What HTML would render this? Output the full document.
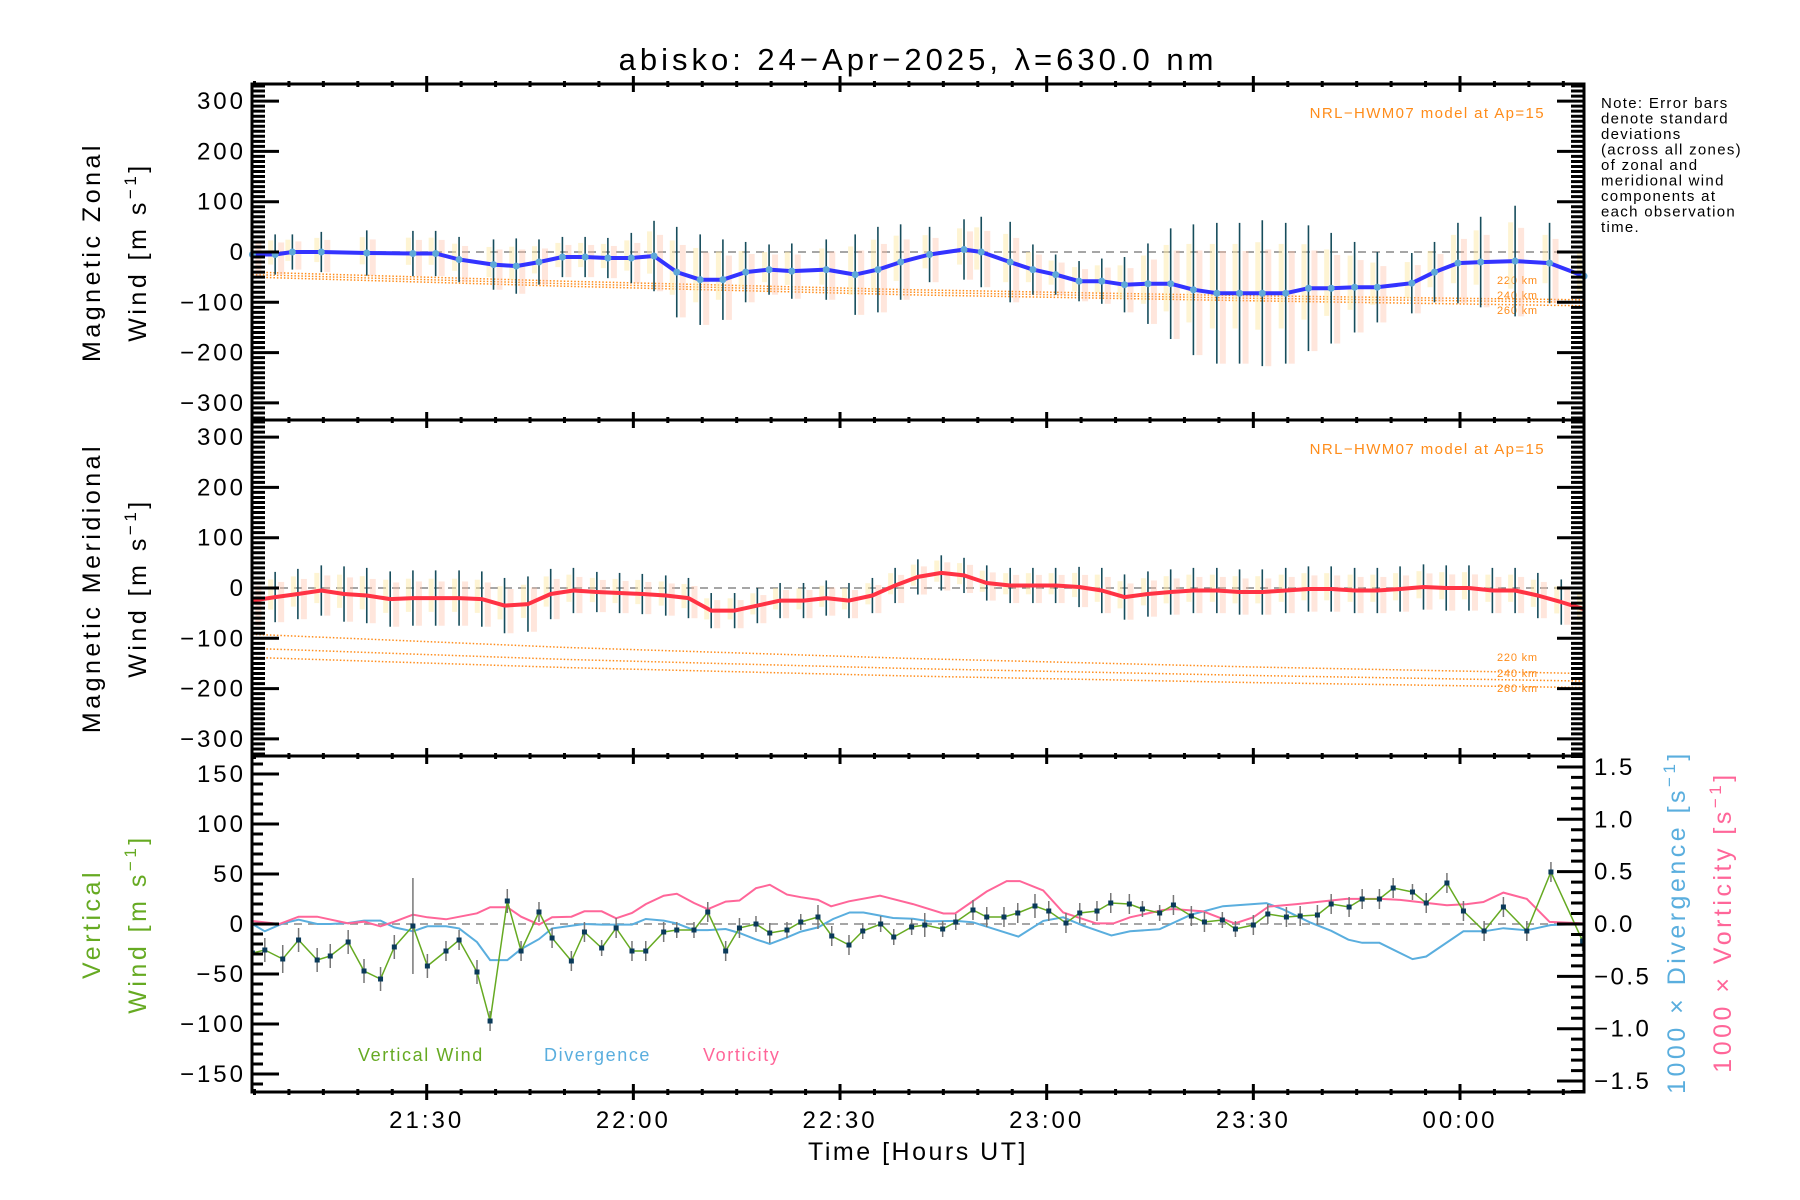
<!DOCTYPE html>
<html><head><meta charset="utf-8"><title>abisko winds</title>
<style>
html,body{margin:0;padding:0;background:#fff;}
svg{display:block;font-family:"Liberation Sans",sans-serif;}
</style></head>
<body>
<svg id="chart" xmlns="http://www.w3.org/2000/svg" width="1800" height="1200" viewBox="0 0 1800 1200">
<rect width="1800" height="1200" fill="#fff"/>
<text x="918" y="70" font-size="31" letter-spacing="4" text-anchor="middle">abisko: 24−Apr−2025, λ=630.0 nm</text>
<g id="layer"></g>
<g font-size="15" letter-spacing="1.3" fill="#000">
<text x="1601" y="108">Note: Error bars</text>
<text x="1601" y="123.5">denote standard</text>
<text x="1601" y="139">deviations</text>
<text x="1601" y="154.5">(across all zones)</text>
<text x="1601" y="170">of zonal and</text>
<text x="1601" y="185.5">meridional wind</text>
<text x="1601" y="201">components at</text>
<text x="1601" y="216.5">each observation</text>
<text x="1601" y="232">time.</text>
</g>
<g font-size="25" letter-spacing="3.5" text-anchor="middle">
<text transform="translate(100,252) rotate(-90)">Magnetic Zonal</text>
<text transform="translate(146,252) rotate(-90)">Wind [m s<tspan dy="-10" font-size="17">−1</tspan><tspan dy="10">]</tspan></text>
<text transform="translate(100,588) rotate(-90)">Magnetic Meridional</text>
<text transform="translate(146,588) rotate(-90)">Wind [m s<tspan dy="-10" font-size="17">−1</tspan><tspan dy="10">]</tspan></text>
<text transform="translate(100,924) rotate(-90)" fill="#66aa22">Vertical</text>
<text transform="translate(146,924) rotate(-90)" fill="#66aa22">Wind [m s<tspan dy="-10" font-size="17">−1</tspan><tspan dy="10">]</tspan></text>
<text transform="translate(1685,922) rotate(-90)" fill="#5aaede">1000 × Divergence [s<tspan dy="-10" font-size="17">−1</tspan><tspan dy="10">]</tspan></text>
<text transform="translate(1731,922) rotate(-90)" fill="#ff6699">1000 × Vorticity [s<tspan dy="-10" font-size="17">−1</tspan><tspan dy="10">]</tspan></text>
</g>
<text x="918" y="1160" font-size="25" letter-spacing="2.5" text-anchor="middle">Time [Hours UT]</text>
<text x="1545" y="118" font-size="15" letter-spacing="1.4" text-anchor="end" fill="#ff8c1a">NRL−HWM07 model at Ap=15</text>
<text x="1545" y="454" font-size="15" letter-spacing="1.4" text-anchor="end" fill="#ff8c1a">NRL−HWM07 model at Ap=15</text>
<g font-size="18" letter-spacing="1.6">
<text x="358" y="1061" fill="#66aa22">Vertical Wind</text>
<text x="544" y="1061" fill="#5aaede">Divergence</text>
<text x="703" y="1061" fill="#ff6699">Vorticity</text>
</g>
</svg>
<script>
// ---------- data ----------
const zonalTimes=[4.7,8,10.5,14.7,21.3,28,31.3,34.7,39.7,43,46.3,49.7,53,56.3,59.7,63,66.3,69.7,73,76.3,79.7,83,88,92.2,95.5,98.8,103,108,110.5,114.7,118,121.3,124.7,128,131.3,134.7,138,141.3,144.7,148,151.3,154.7,158,161.3,164.7,168,173,176.3,179.7,183,188,193,198];
const zonalWind=[-5,-5,0,0,-2,-3,-3,-15,-25,-28,-20,-10,-10,-12,-12,-8,-40,-55,-55,-40,-35,-38,-35,-45,-35,-20,-5,5,0,-20,-35,-45,-58,-58,-65,-63,-63,-75,-82,-82,-82,-82,-72,-72,-70,-70,-62,-40,-22,-20,-18,-22,-48];
const zonalStd=[45,40,35,40,45,45,45,45,50,55,45,40,40,40,50,70,90,90,80,60,50,55,60,80,85,75,55,60,70,80,50,40,40,45,55,80,110,130,140,140,145,140,125,110,90,70,60,60,80,90,110,80,70];
const merTimes=[4.7,8,11.3,14.7,18,21.3,24.7,28,31.3,34.7,38,41.3,44.7,48,51.3,54.7,58,61.3,64.7,68,71.3,74.7,78,81.3,84.7,88,91.3,94.7,98,101.3,104.7,108,111.3,114.7,118,121.3,124.7,128,131.3,134.7,138,141.3,144.7,148,151.3,154.7,158,161.3,164.7,168,171.3,174.7,178,181.3,184.7,188,191.3,194.7,198];
const merWind=[-25,-18,-12,-5,-12,-15,-22,-20,-20,-20,-22,-35,-32,-12,-5,-8,-10,-12,-15,-20,-45,-45,-35,-25,-25,-20,-25,-15,5,22,30,25,10,5,5,5,2,-5,-18,-12,-8,-5,-5,-8,-8,-5,-2,-2,-5,-5,-2,2,0,0,-5,-5,-15,-28,-42];
const merStd=[50,50,50,50,55,55,55,55,55,55,55,55,55,50,45,40,40,40,40,40,35,35,35,35,35,35,35,35,35,35,35,35,35,35,35,35,40,45,45,45,45,45,45,45,45,45,45,45,45,45,45,45,45,45,45,45,45,45,45];
const hwmTimes=[4.7,50,100,150,198];
const hwmZonal220=[-40,-58,-75,-87,-95];
const hwmZonal240=[-45,-63,-80,-92,-100];
const hwmZonal260=[-50,-68,-85,-97,-107];
const hwmMer220=[-92,-118,-140,-157,-170];
const hwmMer240=[-120,-142,-160,-174,-185];
const hwmMer260=[-138,-158,-175,-188,-198];
const vertTimes=[4.7,6.5,9.1,11.4,14.1,16,18.6,20.9,23.3,25.3,28,30.1,32.8,34.7,37.3,39.2,41.7,43.7,46.3,48.2,51,52.9,55.4,57.5,59.8,61.8,64.4,66.3,68.8,70.8,73.4,75.4,77.8,79.8,82.3,84.3,86.8,88.8,91.3,93.3,95.9,97.8,100.4,102.3,104.9,106.8,109.3,111.3,113.8,115.8,118.3,120.3,122.8,124.8,127.3,129.3,132,133.9,136.4,138.4,141,142.9,145.5,147.4,150,152.1,154.8,156.8,159.3,161.3,163.9,165.8,168.3,170.3,173.1,175.1,178.1,180.5,183.5,186.3,189.7,193.2,197.8];
const vertWind=[-29,-26,-35,-16,-36,-32,-18,-47,-55,-23,-2,-42,-27,-16,-48,-97,23,-27,12,-14,-37,-8,-24,-4,-27,-27,-8,-6,-6,12,-27,-4,0,-9,-6,2,7,-12,-21,-7,0,-13,-3,-1,-5,2,14,7,7,11,18,13,1,11,13,21,20,15,11,19,8,2,4,-5,-1,10,7,8,9,20,17,25,25,36,32,21,41,13,-7,17,-7,52,-17];
const vertErr=[12,12,14,12,12,12,12,12,12,12,48,12,10,10,12,10,12,10,10,10,10,10,8,10,10,10,10,8,8,10,10,10,8,10,8,8,12,10,10,8,8,8,8,12,8,8,10,10,10,10,12,10,10,10,10,10,10,8,8,10,10,10,8,8,10,10,10,10,10,10,10,10,10,10,8,10,10,10,10,10,10,10,10];
const divTimes=[4.7,6.5,9.1,11.4,14.1,16,18.6,20.9,23.3,25.3,28,30.1,32.8,34.7,37.3,39.2,41.7,43.7,46.3,48.2,51,52.9,55.4,57.5,59.8,61.8,64.4,66.3,68.8,70.8,73.4,75.4,77.8,79.8,82.3,84.3,86.8,89,91.4,93.4,97.7,100.6,103,106.9,109.3,115.9,119.5,122.4,125.3,129.4,132.1,136.4,141,145.6,151.9,154.3,158.2,161.3,163.8,165.8,168.3,173.1,175.1,180.5,183.5,186.3,189.7,193.2,197.9];
const divergence=[0,-0.07,0.006,0.041,0,0,0.01,0.032,0.032,-0.032,-0.07,-0.022,-0.022,-0.042,-0.173,-0.345,-0.345,-0.24,-0.144,-0.042,-0.016,0,-0.006,-0.006,-0.006,0.048,0.032,0.006,-0.058,-0.058,-0.048,-0.086,-0.147,-0.19,-0.128,-0.073,-0.032,0.048,0.11,0.11,0.057,0.05,0.025,0.03,0.016,-0.12,0.03,0.064,-0.016,-0.11,-0.07,-0.05,0.09,0.17,0.2,0.14,0.016,-0.065,-0.15,-0.18,-0.18,-0.335,-0.31,-0.07,-0.07,-0.04,-0.06,-0.01,0];
const vortTimes=[4.7,8.6,11.4,14.1,18.6,20.9,23.3,25.3,28,30.1,32.8,37.3,39.2,41.7,43.7,46.3,48.2,51,52.9,55.4,57.5,59.8,61.8,64.4,66.3,68.8,70.8,73.4,75.4,77.8,79.8,82.3,84.3,86.8,88.7,91.3,95.8,100.6,105,106.7,111.3,114.2,116.1,119.5,122.4,127.2,129.7,132.1,136.9,138.4,142.7,147.3,150,152.2,156.3,160.6,163.5,168.4,171.3,178.1,181,183.4,186.3,189.7,193,197.9];
const vorticity=[0.029,0,0.07,0.07,0.006,0.022,-0.022,0.022,0.089,0.064,0.045,0.102,0.16,0.16,0.07,-0.006,0.064,0.07,0.121,0.121,0.054,0.105,0.19,0.27,0.288,0.201,0.141,0.214,0.224,0.342,0.374,0.281,0.256,0.23,0.169,0.217,0.27,0.19,0.1,0.1,0.31,0.41,0.41,0.32,0.11,0.006,0.006,0.064,0.134,0.143,0.12,0.006,0.064,0.166,0.19,0.22,0.24,0.24,0.23,0.18,0.19,0.21,0.3,0.24,0.02,0.006];
const zonalTicks=[300,200,100,0,-100,-200,-300];
const vertTicks=[150,100,50,0,-50,-100,-150];
const rightTicks=[1.5,1.0,0.5,0.0,-0.5,-1.0,-1.5];
const timeTickMinutes=[30,60,90,120,150,180];
const timeTickLabels=["21:30","22:00","22:30","23:00","23:30","00:00"];

// ---------- axes ----------
const L=252,R=1584,P=[[84,420],[420,756],[756,1092]];
const M0=4.64,M1=198.0;
function xS(m){return L+(m-M0)*(R-L)/(M1-M0);}
function yZ(v){return 252-v*0.503;}
function yM(v){return 588-v*0.503;}
function yV(v){return 924-v*1.0;}
function yR(r){return 924-r*104.7;}
const NS="http://www.w3.org/2000/svg";
const layer=document.getElementById('layer');
function mk(tag,attrs,parent){const e=document.createElementNS(NS,tag);for(const k in attrs)e.setAttribute(k,attrs[k]);(parent||layer).appendChild(e);return e;}
function poly(ts,vs,yf){return ts.map((t,i)=>xS(t).toFixed(1)+','+yf(vs[i]).toFixed(1)).join(' ');}

const defs=mk('defs',{});
P.forEach((p,i)=>{const c=mk('clipPath',{id:'clip'+i},defs);mk('rect',{x:L,y:p[0],width:R-L,height:p[1]-p[0]},c);});

[[yZ,0],[yM,1],[yV,2]].forEach(([f,i])=>{
  const z=mk('line',{x1:L,x2:R,y1:f(0),y2:f(0),stroke:'#888','stroke-width':1.5,'stroke-dasharray':'8,6'});
  
  
});

function hwm(arr,yf,ci,name){
  const l=mk('polyline',{points:poly(hwmTimes,arr,yf),fill:'none',stroke:'#ff8c1a','stroke-width':1.5,'stroke-dasharray':'1.5,2','clip-path':'url(#clip'+ci+')'});
  
  
}
hwm(hwmZonal220,yZ,0,'hwm-zonal-220km');hwm(hwmZonal240,yZ,0,'hwm-zonal-240km');hwm(hwmZonal260,yZ,0,'hwm-zonal-260km');
hwm(hwmMer220,yM,1,'hwm-meridional-220km');hwm(hwmMer240,yM,1,'hwm-meridional-240km');hwm(hwmMer260,yM,1,'hwm-meridional-260km');
[['220 km',284],['240 km',299],['260 km',314],['220 km',661],['240 km',677],['260 km',692]].forEach(([t,y])=>{
  const e=mk('text',{x:1497,y:y,'font-size':11,fill:'#ff8c1a','letter-spacing':0.8});e.textContent=t;
  
  
});

function errs(ts,vs,sd,yf,ci,prefix){
  ts.forEach((t,i)=>{
    const x=xS(t);
    const b=mk('rect',{x:x+3,y:yf(vs[i]+sd[i]*0.6),width:6,height:yf(vs[i]-sd[i])-yf(vs[i]+sd[i]*0.6),fill:'#ffc0a8',opacity:0.4,'clip-path':'url(#clip'+ci+')'});
    
    
    const y=mk('rect',{x:x-7,y:yf(vs[i]+sd[i]*0.7),width:5,height:yf(vs[i]-sd[i]*0.5)-yf(vs[i]+sd[i]*0.7),fill:'#fde9a8',opacity:0.5,'clip-path':'url(#clip'+ci+')'});
    
    
    const l=mk('line',{x1:x,x2:x,y1:yf(vs[i]+sd[i]),y2:yf(vs[i]-sd[i]),stroke:'#174d5c','stroke-width':1.6,'clip-path':'url(#clip'+ci+')'});
    
    
  });
}
errs(zonalTimes,zonalWind,zonalStd,yZ,0,'zonal');
errs(merTimes,merWind,merStd,yM,1,'meridional');

const zl=mk('polyline',{points:poly(zonalTimes,zonalWind,yZ),fill:'none',stroke:'#3333ff','stroke-width':4,'stroke-linejoin':'round','clip-path':'url(#clip0)'});


zonalTimes.forEach((t,i)=>{const c=mk('circle',{cx:xS(t),cy:yZ(zonalWind[i]),r:3.5,fill:'#5fa8d8'});
  
  });
const ml=mk('polyline',{points:poly(merTimes,merWind,yM),fill:'none',stroke:'#ff3344','stroke-width':4,'stroke-linejoin':'round','clip-path':'url(#clip1)'});



const dl=mk('polyline',{points:poly(divTimes,divergence,yR),fill:'none',stroke:'#5aaede','stroke-width':2,'clip-path':'url(#clip2)'});


const vl=mk('polyline',{points:poly(vortTimes,vorticity,yR),fill:'none',stroke:'#ff6699','stroke-width':2,'clip-path':'url(#clip2)'});


vertTimes.forEach((t,i)=>{const x=xS(t);
  const e=mk('line',{x1:x,x2:x,y1:yV(vertWind[i]+vertErr[i]),y2:yV(vertWind[i]-vertErr[i]),stroke:'#777','stroke-width':1.5,'clip-path':'url(#clip2)'});
  
  });
const gl=mk('polyline',{points:poly(vertTimes,vertWind,yV),fill:'none',stroke:'#66aa22','stroke-width':1.5,'clip-path':'url(#clip2)'});


vertTimes.forEach((t,i)=>{const s=mk('rect',{x:xS(t)-2.5,y:yV(vertWind[i])-2.5,width:5,height:5,fill:'#0a3a5a','clip-path':'url(#clip2)'});
  
  });

P.forEach((p,i)=>{
  const f=mk('rect',{x:L,y:p[0],width:R-L,height:p[1]-p[0],fill:'none',stroke:'#000','stroke-width':3});
  
  
});
let tk='';
[yZ,yM].forEach((f,pi)=>{
  for(let v=-330;v<=330;v+=10){const y=f(v);const major=v%100===0;const len=major?27:13;
    tk+=`M${L},${y}h${len}M${R},${y}h${-len}`;}
  zonalTicks.forEach(v=>{const t=mk('text',{x:246,y:f(v)+8,'font-size':24,'letter-spacing':3,'text-anchor':'end'});t.textContent=(v<0?'−':'')+Math.abs(v);
    
    });
});
for(let v=-160;v<=160;v+=10){const y=yV(v);tk+=`M${L},${y}h${v%50===0?27:11}`;}
for(let r=-1.6;r<=1.61;r+=0.1){const rr=Math.round(r*10);const y=yR(rr/10);tk+=`M${R},${y}h${rr%5===0?-27:-13}`;}
vertTicks.forEach(v=>{const t=mk('text',{x:246,y:yV(v)+8,'font-size':24,'letter-spacing':3,'text-anchor':'end'});t.textContent=(v<0?'−':'')+Math.abs(v);
  
  });
rightTicks.forEach(r=>{const t=mk('text',{x:1594,y:yR(r)+8,'font-size':24,'letter-spacing':2.5});t.textContent=(r<0?'−':'')+Math.abs(r).toFixed(1);
  
  });
for(let m=5;m<=198;m+=5){const x=xS(m);const major=m%30===0;
  [84,420,756,1092].forEach(y=>{const a=major?8:3;tk+=`M${x},${y-a}v${2*a}`;});}
const tp=mk('path',{d:tk,stroke:'#000','stroke-width':3,fill:'none'});


timeTickMinutes.forEach((m,i)=>{const t=mk('text',{x:xS(m),y:1128,'font-size':24,'letter-spacing':3,'text-anchor':'middle'});t.textContent=timeTickLabels[i];
  
  });
</script>
</body></html>
